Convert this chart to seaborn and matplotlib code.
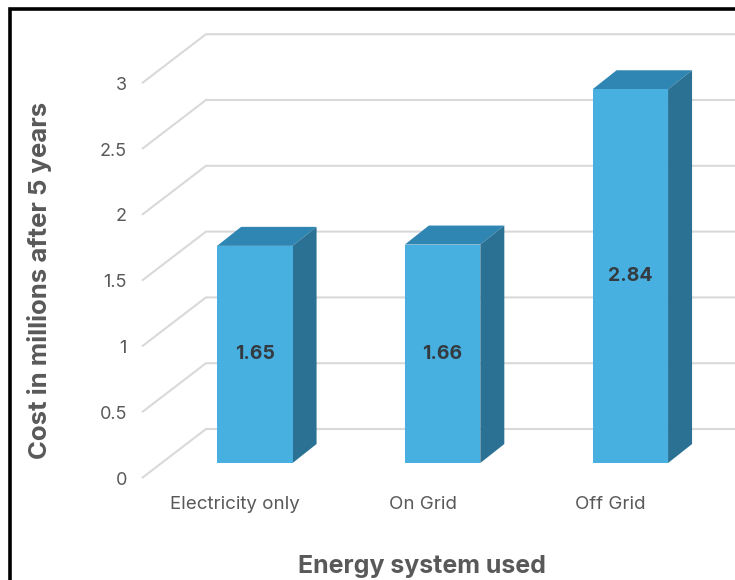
import matplotlib
matplotlib.use("Agg")
import matplotlib.pyplot as plt
from matplotlib.patches import Polygon, Rectangle
from matplotlib.transforms import ScaledTranslation
import seaborn as sns
import pandas as pd

# Chart data
systems = ["Electricity only", "On Grid", "Off Grid"]
costs = [1.65, 1.66, 2.84]
y_ticks = [0, 0.5, 1, 1.5, 2, 2.5, 3]
y_tick_labels = ["0", "0.5", "1", "1.5", "2", "2.5", "3"]

FRONT = "#47b0e0"
TOP = "#2f86b3"
SIDE = "#2a7193"
GRID = "#d9d9d9"
TEXT = "#595959"

sns.set_theme(style="white")
plt.rcParams["font.family"] = ["Inter", "DejaVu Sans"]

DPI = 100
fig = plt.figure(figsize=(7.35, 5.8), dpi=DPI)
fig.patch.set_facecolor("white")

ax = fig.add_axes([0.2190, 0.2017, 0.7663, 0.6807])
ax.set_xlim(-0.5, 2.5)
ax.set_ylim(0, 3)
ax.set_facecolor("none")
for s in ax.spines.values():
    s.set_visible(False)

# pixel size of one data unit, used for the pseudo-3D depth offsets
px_x = ax.bbox.width / 3.0
px_y = ax.bbox.height / 3.0

def depth(dx_px, dy_px):
    return dx_px / px_x, dy_px / px_y

bar_dx, bar_dy = depth(24, 19)        # bar depth
front_dx, front_dy = depth(-19, -15)  # floor front edge
back_dx, back_dy = depth(45, 34)      # back wall

# Floor-to-wall gridlines
x_left, x_right = ax.get_xlim()
for v in y_ticks:
    ax.plot([x_left + front_dx, x_left + back_dx, x_right + 1.0],
            [v + front_dy, v + back_dy, v + back_dy],
            color=GRID, lw=1.5, zorder=1, clip_on=False,
            solid_capstyle="butt")

df = pd.DataFrame({"system": systems, "cost": costs})
sns.barplot(data=df, x="system", y="cost", color=FRONT, saturation=1,
            width=0.402, linewidth=0, ax=ax, zorder=4)

# Top and side faces of each column, plus value labels
for patch, val in zip(ax.patches, costs):
    x0 = patch.get_x()
    x1 = x0 + patch.get_width()
    h = patch.get_height()
    top = Polygon([(x0, h), (x1, h), (x1 + bar_dx, h + bar_dy), (x0 + bar_dx, h + bar_dy)],
                  closed=True, facecolor=TOP, edgecolor="none", zorder=3, clip_on=False)
    side = Polygon([(x1, 0), (x1 + bar_dx, bar_dy), (x1 + bar_dx, h + bar_dy), (x1, h)],
                   closed=True, facecolor=SIDE, edgecolor="none", zorder=3, clip_on=False)
    ax.add_patch(top)
    ax.add_patch(side)
    ax.text((x0 + x1) / 2, h / 2, f"{val:.2f}", ha="center", va="center",
            fontsize=14, fontweight="bold", color="#333a40", zorder=5)

# Axis ticks and labels
ax.set_yticks(y_ticks)
ax.set_yticklabels(y_tick_labels)
ax.tick_params(axis="y", length=0, pad=24.5, labelsize=13, labelcolor=TEXT)
ax.tick_params(axis="x", length=0, pad=24, labelsize=13.5, labelcolor=TEXT)
for lbl in ax.get_yticklabels():
    lbl.set_transform(lbl.get_transform() + ScaledTranslation(0, -15 / DPI, fig.dpi_scale_trans))
for lbl in ax.get_xticklabels():
    lbl.set_transform(lbl.get_transform() + ScaledTranslation(-20 / DPI, 0, fig.dpi_scale_trans))

ax.set_xlabel("Energy system used", fontsize=18, fontweight="bold", color=TEXT)
ax.set_ylabel("Cost in millions after 5 years", fontsize=18.5, fontweight="bold", color=TEXT)
ax.xaxis.set_label_coords(0.4634, -0.261)
ax.xaxis.label.set_va("center")
ax.yaxis.set_label_coords(-0.2148, 0.4635)
ax.yaxis.label.set_va("center")
ax.yaxis.label.set_ha("center")

# Outer frame (left and top edges visible)
fig.patches.append(Rectangle((9.5 / 735, -0.1), 1.2, (570.5 / 580) + 0.1,
                             transform=fig.transFigure, fill=False,
                             edgecolor="black", lw=2.6, zorder=10))

fig.savefig("out.png", dpi=DPI)
